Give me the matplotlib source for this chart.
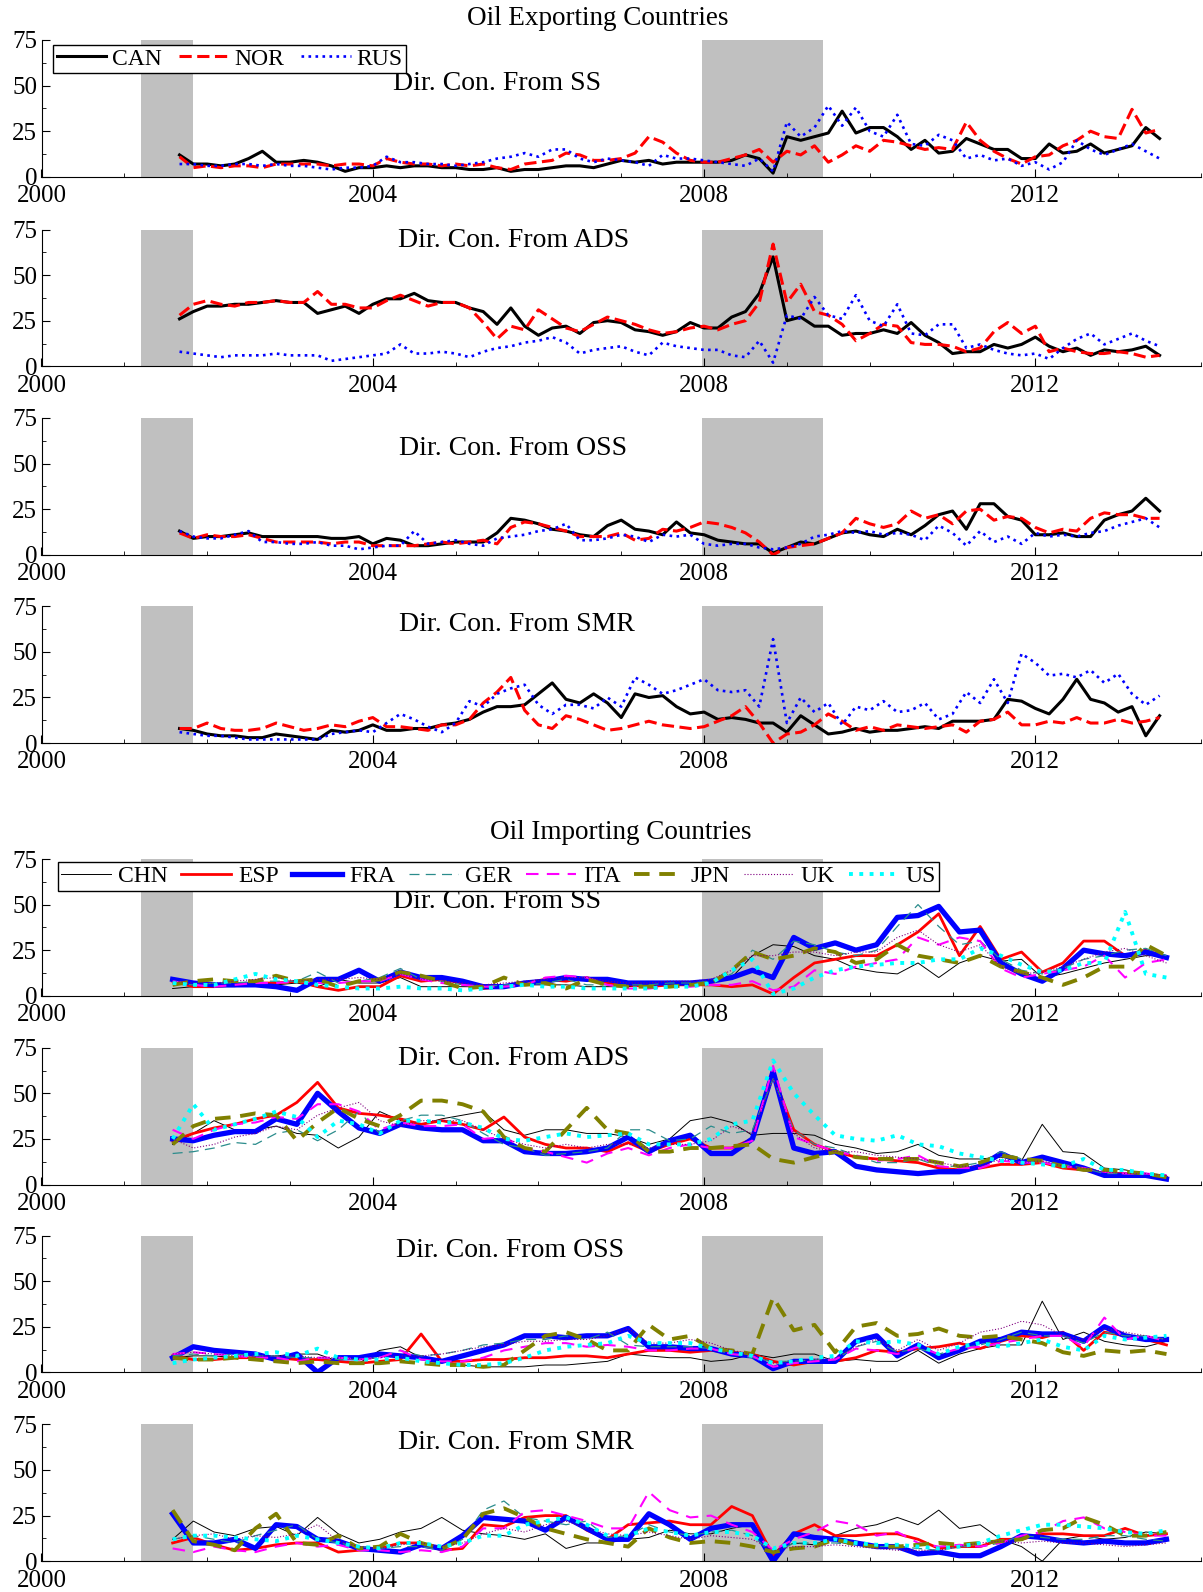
import numpy as np
import matplotlib
matplotlib.use("Agg")
import matplotlib.pyplot as plt
from matplotlib.ticker import MultipleLocator

plt.rcParams['font.family'] = ['Liberation Serif', 'DejaVu Serif']

# sampling dates (decimal years)
exp_dates = 2001 + 8 / 12 + np.arange(72) / 6   # every 2 months, Sep 2001 - Jul 2013
imp_dates = 2001 + 7 / 12 + np.arange(49) / 4   # quarterly, Aug 2001 - Aug 2013

recessions = [(2001.2, 2001.83), (2007.98, 2009.43)]
panel_titles = ['Dir. Con. From SS', 'Dir. Con. From ADS', 'Dir. Con. From OSS', 'Dir. Con. From SMR']
year_ticks = [2000, 2004, 2008, 2012]

# ---- oil exporting countries ----
exp_ss_can = [12, 7, 7, 6, 7, 10, 14, 8, 8, 9, 8, 6, 3, 5, 5, 6, 5, 6, 6, 5, 5, 4, 4, 5, 3, 4, 4, 5, 6, 6, 5, 7, 9, 8, 9, 7,
              8, 8, 8, 8, 9, 12, 10, 2, 22, 20, 22, 24, 36, 24, 27, 27, 22, 15, 20, 13, 14, 21, 18, 15, 15, 10, 10, 18, 13, 14, 18, 13, 15, 17, 27, 21]
exp_ss_nor = [11, 5, 6, 5, 6, 6, 5, 7, 7, 7, 7, 6, 7, 7, 6, 10, 8, 7, 7, 6, 7, 6, 7, 5, 4, 7, 8, 9, 13, 12, 9, 9, 10, 13, 22, 19,
              13, 9, 8, 8, 10, 12, 15, 8, 14, 12, 17, 8, 12, 17, 14, 20, 19, 17, 15, 16, 15, 30, 20, 14, 10, 7, 11, 12, 17, 20, 25, 22, 21, 37, 24, 26]
exp_ss_rus = [7, 7, 6, 6, 7, 7, 6, 7, 6, 6, 5, 4, 5, 5, 6, 11, 8, 8, 7, 7, 6, 7, 8, 10, 11, 13, 11, 15, 15, 10, 8, 10, 9, 8, 6, 12,
              10, 10, 9, 8, 7, 6, 10, 3, 30, 22, 27, 39, 28, 38, 25, 22, 34, 18, 17, 23, 20, 10, 12, 9, 10, 6, 8, 4, 8, 20, 15, 12, 15, 18, 14, 10]

exp_ads_can = [26, 30, 33, 33, 34, 34, 35, 36, 35, 35, 29, 31, 33, 29, 34, 37, 37, 40, 36, 35, 35, 32, 30, 23, 32, 22, 17, 21, 22, 18,
               24, 25, 24, 20, 19, 17, 19, 24, 21, 21, 27, 30, 40, 60, 25, 27, 22, 22, 17, 18, 18, 20, 18, 24, 17, 13, 7, 8, 8, 12, 10, 12, 16, 11, 8, 10, 6, 9, 8, 9, 11, 6]
exp_ads_nor = [28, 34, 36, 34, 33, 35, 35, 36, 35, 35, 41, 34, 34, 32, 32, 36, 39, 36, 33, 35, 35, 32, 24, 15, 22, 20, 31, 26, 21, 19,
               23, 27, 25, 23, 20, 18, 19, 21, 22, 20, 23, 25, 35, 67, 35, 45, 30, 28, 23, 14, 18, 23, 22, 13, 12, 12, 11, 8, 10, 19, 24, 18, 22, 8, 10, 8, 7, 7, 8, 7, 5, 6]
exp_ads_rus = [8, 7, 6, 5, 6, 6, 6, 7, 6, 6, 6, 3, 4, 5, 6, 7, 12, 7, 7, 8, 7, 5, 8, 10, 11, 13, 14, 16, 13, 7, 9, 10, 11, 8, 6, 13,
               11, 10, 9, 9, 6, 5, 14, 2, 28, 26, 38, 28, 26, 39, 25, 22, 34, 18, 17, 23, 23, 10, 12, 9, 7, 6, 7, 4, 10, 15, 18, 12, 15, 18, 14, 11]

exp_oss_can = [13, 9, 10, 10, 11, 12, 10, 10, 10, 10, 10, 9, 9, 10, 6, 9, 8, 5, 5, 6, 7, 7, 7, 12, 20, 19, 17, 14, 13, 11,
               10, 16, 19, 14, 13, 11, 18, 12, 11, 8, 7, 6, 6, 1, 4, 7, 6, 9, 12, 13, 11, 10, 14, 11, 16, 22, 24, 14, 28, 28, 21, 19, 11, 11, 12, 10, 10, 19, 22, 24, 31, 24]
exp_oss_nor = [12, 9, 11, 10, 10, 11, 9, 7, 7, 7, 7, 6, 7, 7, 5, 5, 5, 5, 6, 7, 6, 7, 8, 6, 15, 18, 17, 15, 13, 10,
               10, 10, 12, 8, 9, 14, 13, 15, 18, 17, 15, 12, 7, 0, 4, 5, 6, 9, 12, 20, 17, 15, 17, 24, 20, 22, 17, 24, 25, 19, 21, 20, 15, 12, 14, 13, 20, 23, 22, 22, 20, 20]
exp_oss_rus = [13, 10, 9, 9, 11, 13, 7, 7, 6, 6, 7, 5, 5, 3, 4, 5, 5, 13, 6, 7, 8, 6, 5, 9, 10, 11, 13, 14, 17, 8,
               8, 9, 11, 10, 7, 11, 10, 11, 6, 5, 6, 6, 4, 3, 4, 6, 10, 11, 13, 12, 13, 11, 12, 11, 8, 16, 12, 5, 13, 7, 10, 6, 12, 10, 11, 10, 12, 13, 16, 18, 20, 15]

exp_smr_can = [8, 7, 5, 4, 4, 3, 3, 5, 4, 3, 2, 7, 6, 7, 10, 7, 7, 8, 8, 10, 11, 13, 17, 20, 20, 21, 27, 33, 24, 22,
               27, 22, 14, 27, 25, 26, 20, 16, 17, 13, 14, 13, 11, 11, 6, 15, 10, 5, 6, 8, 6, 7, 7, 8, 9, 8, 12, 12, 12, 13, 24, 23, 19, 16, 24, 35, 24, 22, 17, 20, 4, 15]
exp_smr_nor = [8, 8, 11, 8, 7, 7, 8, 11, 9, 7, 8, 10, 9, 12, 14, 9, 9, 8, 7, 10, 10, 13, 22, 28, 36, 18, 10, 8, 15, 13,
               10, 7, 8, 10, 12, 10, 9, 8, 9, 12, 15, 20, 11, 0, 5, 6, 10, 16, 12, 7, 9, 7, 10, 9, 8, 9, 10, 6, 12, 13, 17, 10, 10, 12, 11, 14, 11, 11, 13, 11, 12, 14]
exp_smr_rus = [6, 5, 4, 4, 3, 2, 2, 2, 2, 2, 2, 5, 6, 7, 6, 11, 16, 13, 9, 6, 11, 23, 20, 27, 30, 32, 21, 16, 21, 21,
               19, 25, 20, 36, 32, 27, 29, 32, 35, 29, 28, 29, 20, 57, 11, 25, 17, 22, 10, 20, 18, 23, 17, 18, 22, 13, 16, 28, 22, 35, 22, 49, 44, 37, 38, 36, 40, 33, 38, 27, 21, 26]

# ---- oil importing countries ----
imp_ss_chn = [4, 5, 5, 5, 6, 6, 7, 5, 9, 7, 7, 10, 5, 5, 5, 5, 5, 6, 6, 6, 5, 5,
              5, 6, 6, 7, 7, 10, 22, 28, 27, 22, 20, 15, 13, 12, 18, 10, 18, 22, 19, 20, 10, 12, 15, 18, 20, 22, 22]
imp_ss_esp = [8, 5, 5, 6, 7, 7, 8, 5, 3, 5, 5, 11, 8, 9, 7, 4, 5, 7, 9, 8, 10, 7,
              6, 5, 6, 6, 6, 5, 6, 1, 10, 18, 20, 22, 22, 28, 35, 45, 22, 38, 20, 24, 13, 18, 30, 30, 22, 25, 21]
imp_ss_fra = [9, 7, 6, 6, 6, 5, 3, 9, 9, 14, 8, 13, 10, 10, 8, 5, 5, 7, 8, 10, 9, 9,
              7, 7, 7, 7, 8, 10, 14, 10, 32, 26, 29, 25, 28, 43, 44, 49, 35, 36, 18, 12, 8, 15, 25, 23, 22, 24, 21]
imp_ss_ger = [7, 6, 7, 7, 8, 8, 8, 13, 7, 8, 10, 15, 9, 8, 6, 5, 6, 6, 7, 9, 6, 6,
              6, 6, 7, 7, 8, 12, 25, 20, 30, 28, 24, 22, 25, 38, 50, 38, 28, 30, 20, 14, 12, 15, 20, 22, 25, 26, 22]
imp_ss_ita = [8, 6, 5, 6, 7, 7, 8, 7, 7, 8, 8, 12, 9, 7, 6, 5, 5, 6, 10, 11, 10, 6,
              4, 4, 5, 5, 6, 6, 8, 3, 5, 14, 12, 16, 18, 20, 32, 28, 32, 30, 15, 10, 12, 14, 16, 22, 10, 18, 20]
imp_ss_jpn = [6, 8, 9, 8, 8, 11, 8, 9, 5, 8, 9, 13, 11, 8, 4, 5, 10, 6, 7, 4, 9, 6,
              5, 5, 5, 6, 7, 14, 24, 20, 22, 26, 24, 18, 20, 28, 22, 20, 18, 22, 16, 13, 10, 6, 10, 16, 16, 28, 22]
imp_ss_uk = [8, 7, 7, 8, 9, 10, 8, 9, 9, 10, 9, 12, 9, 8, 7, 6, 7, 8, 9, 10, 10, 8,
             7, 7, 8, 8, 9, 14, 22, 22, 24, 24, 22, 24, 24, 32, 36, 28, 24, 28, 16, 12, 13, 16, 20, 24, 26, 22, 18]
imp_ss_us = [7, 6, 6, 9, 12, 9, 8, 6, 5, 4, 4, 5, 4, 4, 3, 4, 5, 6, 5, 5, 4, 4,
             4, 4, 5, 5, 7, 14, 20, 1, 4, 10, 14, 16, 17, 18, 18, 20, 20, 26, 22, 17, 13, 14, 18, 18, 46, 12, 10]

imp_ads_chn = [22, 28, 35, 30, 30, 32, 28, 27, 20, 26, 40, 35, 33, 36, 38, 40, 30, 27, 30, 30, 28, 28,
               26, 22, 25, 35, 37, 34, 27, 28, 28, 27, 22, 20, 17, 18, 22, 16, 14, 14, 15, 13, 33, 18, 17, 9, 8, 6, 5]
imp_ads_esp = [24, 28, 31, 33, 36, 38, 45, 56, 42, 39, 38, 36, 33, 35, 33, 30, 37, 26, 22, 20, 20, 18,
               23, 18, 22, 25, 20, 20, 25, 60, 30, 22, 18, 15, 14, 13, 12, 9, 8, 9, 11, 11, 12, 9, 8, 6, 6, 5, 4]
imp_ads_fra = [25, 24, 27, 29, 29, 36, 33, 50, 40, 31, 28, 33, 31, 30, 30, 24, 24, 18, 17, 17, 18, 20,
               26, 18, 24, 27, 17, 17, 25, 62, 20, 17, 18, 10, 8, 7, 6, 7, 7, 10, 17, 12, 15, 12, 9, 5, 5, 5, 3]
imp_ads_ger = [17, 18, 20, 23, 22, 28, 30, 24, 30, 40, 28, 35, 38, 38, 35, 28, 22, 20, 16, 17, 18, 20,
               30, 30, 24, 25, 32, 28, 30, 58, 30, 22, 20, 16, 12, 12, 14, 10, 10, 12, 18, 14, 12, 11, 9, 6, 6, 6, 5]
imp_ads_ita = [30, 25, 30, 33, 34, 37, 36, 44, 44, 40, 30, 34, 32, 32, 33, 25, 26, 20, 18, 15, 12, 17,
               20, 16, 20, 22, 20, 20, 24, 65, 26, 22, 18, 16, 13, 14, 16, 10, 9, 9, 13, 12, 12, 10, 9, 7, 6, 6, 5]
imp_ads_jpn = [22, 32, 36, 37, 39, 38, 24, 34, 42, 36, 32, 38, 46, 46, 44, 40, 26, 20, 18, 30, 42, 30,
               28, 18, 18, 20, 20, 21, 22, 14, 12, 15, 18, 15, 14, 14, 14, 12, 10, 12, 16, 14, 13, 10, 8, 8, 7, 6, 4]
imp_ads_uk = [25, 20, 22, 26, 28, 32, 30, 38, 42, 45, 35, 32, 35, 35, 35, 30, 25, 22, 20, 22, 20, 22,
              22, 20, 22, 22, 24, 32, 28, 58, 28, 20, 18, 18, 16, 15, 14, 12, 10, 10, 14, 12, 13, 10, 9, 7, 6, 6, 5]
imp_ads_us = [25, 44, 30, 33, 36, 40, 37, 26, 35, 33, 28, 35, 35, 34, 34, 31, 25, 24, 26, 28, 26, 27,
              28, 22, 22, 22, 25, 33, 35, 68, 50, 38, 27, 25, 24, 27, 22, 21, 17, 15, 13, 12, 11, 10, 14, 8, 8, 6, 5]

imp_oss_chn = [8, 9, 9, 8, 8, 9, 10, 10, 6, 5, 12, 14, 8, 6, 4, 3, 3, 3, 4, 4, 5, 6,
               10, 9, 8, 8, 6, 7, 10, 8, 10, 10, 6, 7, 6, 6, 12, 5, 10, 13, 15, 15, 39, 18, 22, 17, 15, 14, 17]
imp_oss_esp = [9, 7, 7, 8, 8, 8, 7, 7, 6, 5, 6, 7, 21, 6, 6, 7, 7, 8, 8, 9, 9, 8,
               10, 12, 12, 11, 12, 11, 10, 6, 4, 6, 6, 8, 12, 11, 13, 14, 16, 13, 17, 20, 19, 22, 12, 22, 20, 18, 15]
imp_oss_fra = [8, 14, 12, 11, 10, 7, 10, 0, 8, 8, 10, 9, 8, 6, 9, 12, 15, 20, 20, 19, 20, 20,
               24, 14, 14, 13, 13, 10, 9, 2, 6, 6, 6, 17, 20, 9, 15, 8, 12, 17, 18, 22, 21, 21, 17, 25, 20, 18, 18]
imp_oss_ger = [9, 10, 9, 10, 9, 9, 8, 8, 7, 7, 8, 12, 9, 10, 12, 15, 16, 18, 18, 20, 18, 22,
               15, 14, 14, 14, 13, 10, 8, 6, 6, 7, 7, 14, 17, 11, 13, 10, 13, 15, 18, 22, 20, 20, 16, 22, 20, 20, 18]
imp_oss_ita = [10, 11, 10, 9, 8, 8, 6, 8, 8, 7, 8, 12, 7, 6, 6, 8, 12, 14, 16, 16, 14, 15,
               14, 12, 12, 13, 13, 10, 9, 3, 5, 6, 7, 13, 12, 10, 14, 10, 13, 14, 16, 18, 20, 20, 14, 30, 18, 20, 17]
imp_oss_jpn = [8, 7, 7, 8, 7, 6, 5, 6, 5, 5, 5, 6, 5, 4, 4, 3, 4, 12, 20, 22, 18, 12,
               12, 26, 18, 20, 13, 12, 10, 41, 23, 26, 11, 25, 27, 20, 21, 24, 20, 19, 20, 18, 16, 11, 9, 12, 11, 12, 10]
imp_oss_uk = [10, 11, 10, 9, 9, 9, 9, 8, 8, 7, 8, 9, 9, 10, 12, 14, 15, 17, 17, 18, 18, 20,
              24, 16, 16, 18, 16, 12, 10, 5, 6, 7, 8, 14, 18, 12, 18, 12, 16, 22, 24, 28, 26, 20, 18, 24, 22, 20, 18]
imp_oss_us = [5, 7, 8, 9, 10, 11, 9, 13, 8, 7, 7, 8, 6, 5, 4, 4, 5, 8, 12, 14, 15, 16,
              20, 16, 16, 16, 13, 11, 9, 5, 6, 8, 9, 17, 16, 17, 15, 10, 14, 16, 14, 16, 18, 14, 12, 20, 18, 19, 20]

imp_smr_chn = [12, 22, 16, 14, 18, 19, 14, 24, 15, 10, 12, 16, 18, 24, 17, 15, 14, 12, 15, 7, 10, 10,
               12, 13, 17, 15, 15, 18, 20, 5, 10, 9, 14, 18, 20, 24, 20, 28, 18, 20, 12, 8, 0, 12, 14, 12, 13, 16, 15]
imp_smr_esp = [10, 13, 9, 6, 7, 9, 10, 10, 5, 6, 7, 10, 10, 6, 7, 20, 19, 24, 25, 25, 17, 12,
               20, 21, 22, 20, 20, 30, 25, 3, 15, 20, 14, 14, 15, 15, 12, 7, 8, 8, 12, 12, 15, 15, 14, 14, 18, 14, 15]
imp_smr_fra = [26, 10, 10, 12, 7, 20, 19, 12, 11, 7, 6, 5, 9, 7, 14, 24, 23, 22, 17, 24, 18, 12,
               12, 26, 20, 12, 18, 20, 20, 0, 15, 13, 12, 10, 8, 8, 4, 5, 3, 3, 8, 14, 13, 11, 10, 11, 10, 10, 12]
imp_smr_ger = [12, 14, 12, 10, 14, 17, 20, 12, 10, 8, 7, 8, 8, 6, 12, 28, 33, 24, 22, 20, 22, 13,
               14, 20, 16, 14, 16, 17, 14, 4, 10, 10, 10, 9, 8, 8, 7, 6, 8, 8, 10, 14, 13, 12, 12, 14, 14, 12, 11]
imp_smr_ita = [7, 5, 8, 6, 5, 8, 10, 8, 9, 6, 6, 5, 6, 5, 8, 18, 18, 27, 28, 25, 22, 18,
               18, 38, 28, 24, 25, 20, 16, 6, 12, 16, 22, 20, 14, 16, 10, 8, 9, 8, 10, 14, 16, 22, 24, 18, 16, 14, 14]
imp_smr_jpn = [28, 11, 9, 6, 18, 26, 10, 9, 14, 7, 8, 15, 10, 7, 12, 26, 29, 24, 18, 15, 12, 10,
               8, 18, 13, 10, 11, 10, 8, 5, 7, 8, 12, 9, 8, 8, 9, 10, 9, 10, 11, 12, 17, 18, 24, 20, 14, 14, 16]
imp_smr_uk = [12, 14, 15, 12, 14, 13, 15, 20, 11, 8, 7, 9, 10, 8, 10, 15, 18, 16, 20, 22, 18, 15,
              14, 16, 14, 12, 14, 13, 12, 6, 8, 8, 9, 8, 7, 6, 6, 6, 8, 10, 11, 10, 11, 10, 10, 9, 8, 9, 10]
imp_smr_us = [12, 14, 14, 13, 12, 11, 14, 12, 10, 8, 7, 10, 10, 8, 10, 14, 14, 20, 22, 24, 20, 14,
              14, 18, 16, 14, 16, 16, 14, 7, 10, 10, 12, 10, 9, 9, 8, 7, 8, 10, 14, 17, 20, 20, 19, 18, 16, 15, 17]

exp_countries = ['CAN', 'NOR', 'RUS']
imp_countries = ['CHN', 'ESP', 'FRA', 'GER', 'ITA', 'JPN', 'UK', 'US']

exp_panels = [
    [exp_ss_can, exp_ss_nor, exp_ss_rus],
    [exp_ads_can, exp_ads_nor, exp_ads_rus],
    [exp_oss_can, exp_oss_nor, exp_oss_rus],
    [exp_smr_can, exp_smr_nor, exp_smr_rus],
]
imp_panels = [
    [imp_ss_chn, imp_ss_esp, imp_ss_fra, imp_ss_ger, imp_ss_ita, imp_ss_jpn, imp_ss_uk, imp_ss_us],
    [imp_ads_chn, imp_ads_esp, imp_ads_fra, imp_ads_ger, imp_ads_ita, imp_ads_jpn, imp_ads_uk, imp_ads_us],
    [imp_oss_chn, imp_oss_esp, imp_oss_fra, imp_oss_ger, imp_oss_ita, imp_oss_jpn, imp_oss_uk, imp_oss_us],
    [imp_smr_chn, imp_smr_esp, imp_smr_fra, imp_smr_ger, imp_smr_ita, imp_smr_jpn, imp_smr_uk, imp_smr_us],
]

# line styles
exp_styles = {
    'CAN': dict(color='black', lw=2.2, ls='-'),
    'NOR': dict(color='red', lw=2.2, dashes=(4, 1.8)),
    'RUS': dict(color='blue', lw=1.9, ls=':'),
}
imp_styles = {
    'CHN': dict(color='black', lw=0.7, ls='-'),
    'ESP': dict(color='red', lw=2.0, ls='-'),
    'FRA': dict(color='blue', lw=3.8, ls='-'),
    'GER': dict(color='#2b8c8c', lw=0.9, dashes=(8, 5)),
    'ITA': dict(color='magenta', lw=1.5, dashes=(6, 4)),
    'JPN': dict(color='#808000', lw=2.8, dashes=(4, 2.5)),
    'UK': dict(color='#800080', lw=0.8, ls=':'),
    'US': dict(color='cyan', lw=2.8, ls=':'),
}

W, H = 1203, 1592
fig = plt.figure(figsize=(W / 100, H / 100), dpi=100)

ax_left = 41.5
ax_width = 1159.5
ax_height = 136.8
panel_tops = [40, 229.5, 418, 606.3, 859, 1047.7, 1235.5, 1424.4]
title_pos = [(0.393, 0.68), (0.407, 0.92), (0.407, 0.78), (0.41, 0.87),
             (0.393, 0.69), (0.407, 0.92), (0.404, 0.89), (0.409, 0.87)]


def setup_axis(ax):
    for r in recessions:
        ax.axvspan(r[0], r[1], color='#c0c0c0', lw=0, zorder=0)
    ax.set_xlim(2000, 2014)
    ax.set_ylim(0, 75)
    ax.spines['top'].set_visible(False)
    ax.spines['right'].set_visible(False)
    ax.set_xticks(year_ticks)
    ax.xaxis.set_minor_locator(MultipleLocator(1))
    ax.set_yticks([0, 25, 50, 75])
    ax.yaxis.set_minor_locator(MultipleLocator(12.5))
    ax.tick_params(which='major', direction='in', length=6, labelsize=18)
    ax.tick_params(axis='x', which='major', pad=6)
    ax.tick_params(axis='y', which='major', pad=3)
    ax.tick_params(which='minor', direction='in', length=3)


axes = []
for i, top in enumerate(panel_tops):
    bottom = 1 - (top + ax_height) / H
    ax = fig.add_axes([ax_left / W, bottom, ax_width / W, ax_height / H])
    setup_axis(ax)
    axes.append(ax)

# exporting countries
for p, series in enumerate(exp_panels):
    ax = axes[p]
    for name, vals in zip(exp_countries, series):
        ax.plot(exp_dates, vals, label=name, **exp_styles[name])
    ax.text(title_pos[p][0], title_pos[p][1], panel_titles[p], transform=ax.transAxes,
            ha='center', va='center', fontsize=20)

# importing countries
for p, series in enumerate(imp_panels):
    ax = axes[p + 4]
    for name, vals in zip(imp_countries, series):
        ax.plot(imp_dates, vals, label=name, **imp_styles[name])
    ax.text(title_pos[p + 4][0], title_pos[p + 4][1], panel_titles[p], transform=ax.transAxes,
            ha='center', va='center', fontsize=20)

leg_kw = dict(loc='upper left', fontsize=17, fancybox=False, edgecolor='black', framealpha=1,
              borderaxespad=0, borderpad=0.15, handlelength=2.1)
leg1 = axes[0].legend(ncol=3, bbox_to_anchor=(0.01, 0.966), handletextpad=0.25,
                      columnspacing=0.72, **leg_kw)
leg2 = axes[4].legend(ncol=8, bbox_to_anchor=(0.014, 0.978), handletextpad=0.3,
                      columnspacing=0.58, **leg_kw)
for leg in (leg1, leg2):
    leg.get_frame().set_linewidth(1.0)
    leg.set_zorder(5)

fig.text(0.497, 1 - 18.5 / H, 'Oil Exporting Countries', ha='center', va='center', fontsize=19.5)
fig.text(0.516, 1 - 832.5 / H, 'Oil Importing Countries', ha='center', va='center', fontsize=19.5)

fig.savefig('out.png', dpi=100)
